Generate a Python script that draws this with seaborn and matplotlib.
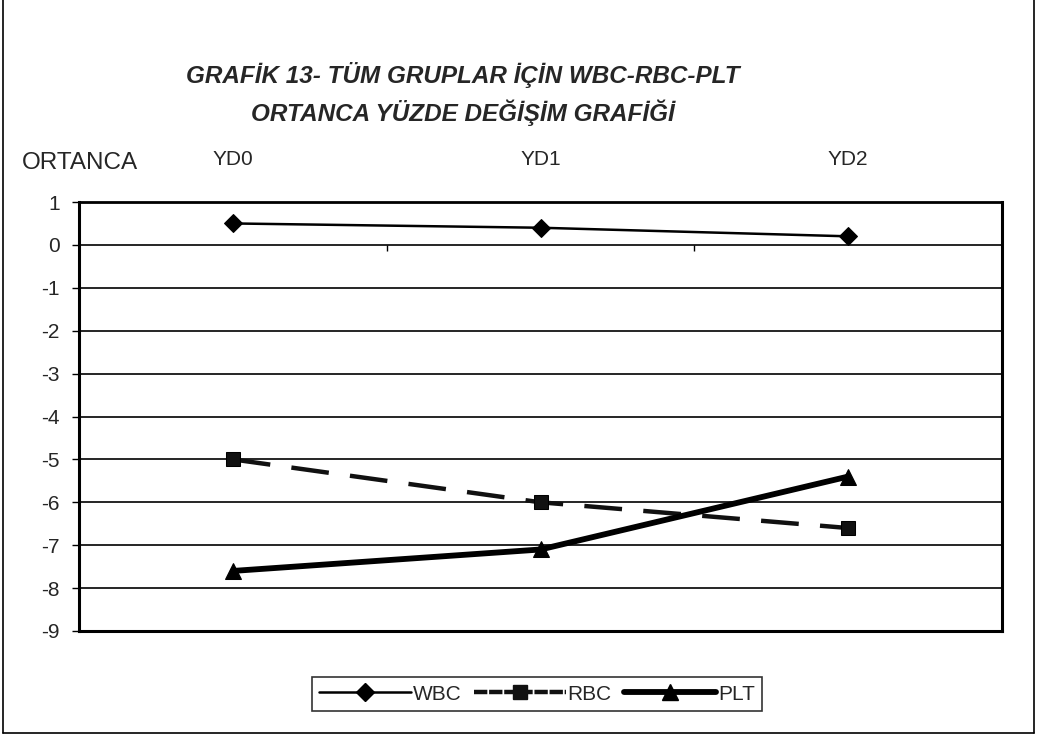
import pandas as pd
import matplotlib.pyplot as plt
import seaborn as sns
from matplotlib.lines import Line2D

sns.set_style("white")
plt.rcParams["font.family"] = ["Liberation Sans", "DejaVu Sans"]

categories = ["YD0", "YD1", "YD2"]
wbc = [0.5, 0.4, 0.2]
rbc = [-5.0, -6.0, -6.6]
plt_vals = [-7.6, -7.1, -5.4]
yticks = list(range(1, -10, -1))

W, H = 1041, 738
fig = plt.figure(figsize=(W / 100, H / 100), dpi=100)
ax = fig.add_axes([79 / W, 1 - 631 / H, (1002 - 79) / W, (631 - 202) / H])

x = list(range(len(categories)))

sns.lineplot(x=x, y=wbc, ax=ax, color="black", lw=1.8, marker="D",
             markersize=9, markeredgecolor="black", label="WBC")
sns.lineplot(x=x, y=rbc, ax=ax, color="#111111", lw=3.2, marker="s",
             markersize=10, markeredgecolor="black", label="RBC",
             dashes=False)
ax.lines[-1].set_dashes([8.5, 4.8])
sns.lineplot(x=x, y=plt_vals, ax=ax, color="black", lw=4.2, marker="^",
             markersize=11, markeredgecolor="black", label="PLT")

ax.set_xlim(-0.5, 2.5)
ax.set_ylim(-9, 1)
ax.set_yticks(yticks)
ax.set_yticklabels([str(v) for v in yticks], fontsize=15)
ax.yaxis.grid(True, color="black", lw=1.2)
ax.set_axisbelow(True)

ax.set_xticks(x)
ax.set_xticklabels(categories, fontsize=15)
ax.xaxis.tick_top()
ax.tick_params(axis="x", length=0, pad=24)
ax.tick_params(axis="y", left=True, length=5, width=1, pad=9, color="black")

# small category-boundary marks on the zero line
ax.vlines([0.5, 1.5], -0.15, 0, color="black", lw=1)

for side in ["left", "right", "top", "bottom"]:
    ax.spines[side].set_visible(True)
    ax.spines[side].set_color("black")
ax.spines["left"].set_linewidth(2.2)
ax.spines["right"].set_linewidth(2.2)
ax.spines["bottom"].set_linewidth(2.2)
ax.spines["top"].set_linewidth(2.0)

ax.get_legend().remove()
handles = [
    Line2D([], [], color="black", lw=1.8, marker="D", markersize=9),
    Line2D([], [], color="#111111", lw=3.2, marker="s", markersize=10, dashes=[3, 0.4]),
    Line2D([], [], color="black", lw=4.2, marker="^", markersize=11),
]
leg = fig.legend(handles, ["WBC", "RBC", "PLT"], loc="center", ncol=3,
                 bbox_to_anchor=(537 / W, 1 - 694 / H), fontsize=15,
                 frameon=True, fancybox=False, handlelength=4.4,
                 handletextpad=0.1, columnspacing=0.6, borderpad=0.35)
leg.get_frame().set_edgecolor("black")
leg.get_frame().set_linewidth(1.2)

title_font = dict(ha="center", va="center", fontsize=17.5, fontweight="bold",
                  fontstyle="italic")
fig.text(463 / W, 1 - 75 / H, "GRAFİK 13- TÜM GRUPLAR İÇİN WBC-RBC-PLT", **title_font)
fig.text(463 / W, 1 - 113 / H, "ORTANCA YÜZDE DEĞİŞİM GRAFİĞİ", **title_font)
fig.text(22 / W, 1 - 163 / H, "ORTANCA", ha="left", va="center", fontsize=17.5)

# outer frame of the scanned chart
for xs, ys in [([3, 3], [0, 733]), ([1034, 1034], [0, 733]), ([3, 1034], [733, 733])]:
    fig.add_artist(Line2D([v / W for v in xs], [1 - v / H for v in ys],
                          color="black", lw=1.2))

fig.savefig("out.png", dpi=100)
